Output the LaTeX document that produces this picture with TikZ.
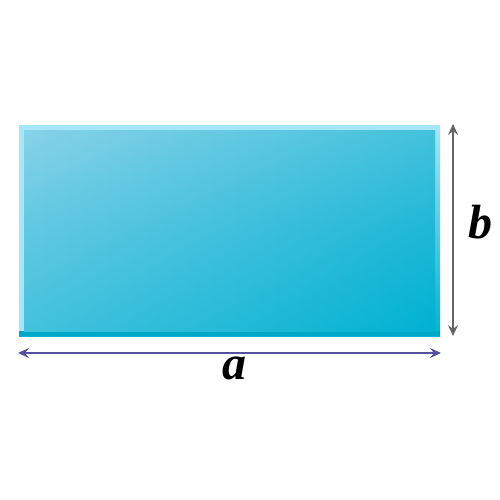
\documentclass[tikz,border=0pt]{standalone}
\usepackage{fontspec}
\setmainfont{Liberation Serif}
\usetikzlibrary{arrows.meta}
\definecolor{rimL}{RGB}{165,230,248}
\definecolor{rimD}{RGB}{0,165,198}
\definecolor{topc}{RGB}{135,210,232}
\definecolor{midc}{RGB}{60,190,220}
\definecolor{botc}{RGB}{0,178,210}
\definecolor{purp}{RGB}{90,80,160}
\definecolor{grayarr}{RGB}{100,100,100}
\tikzset{
  dimarrow/.style={line width=2pt,{Stealth[length=11pt,width=10pt,inset=4pt]}-{Stealth[length=11pt,width=10pt,inset=4pt]}},
  lbl/.style={font=\fontsize{48}{48}\selectfont\bfseries\itshape}
}
\begin{document}
\begin{tikzpicture}[x=1pt,y=-1pt]
\useasboundingbox (0,0) rectangle (500,500);
\fill[white] (0,0) rectangle (500,500);
% rim
\shade[top color=rimL, bottom color=botc] (19,125) rectangle (440,336);
\fill[rimL] (19,125) rectangle (440,130);
\fill[rimL] (19,125) rectangle (24,331);
\fill[rimD!80!botc] (19,331) rectangle (440,336);
% body
\shade[top color=topc, bottom color=botc, middle color=midc] (24,130) rectangle (435,331);
\begin{scope}
\clip (24,130) rectangle (435,331);
\shade[left color=topc, right color=botc, opacity=0.5] (24,130) rectangle (435,331);
\end{scope}
\node[inner sep=0pt,minimum width=421pt,minimum height=211pt] (rect) at (229.5,230.5) {};
\coordinate (hl) at (18,353);
\coordinate (hr) at (441,353);
\coordinate (vt) at (453,124);
\coordinate (vb) at (453,336);
\draw[dimarrow,purp] (hl) -- (hr);
\draw[dimarrow,grayarr] (vt) -- (vb);
\node[lbl,inner sep=0pt] (a) at (234,368) {a};
\node[lbl,inner sep=0pt] (b) at (480,222) {b};
\end{tikzpicture}
\end{document}
